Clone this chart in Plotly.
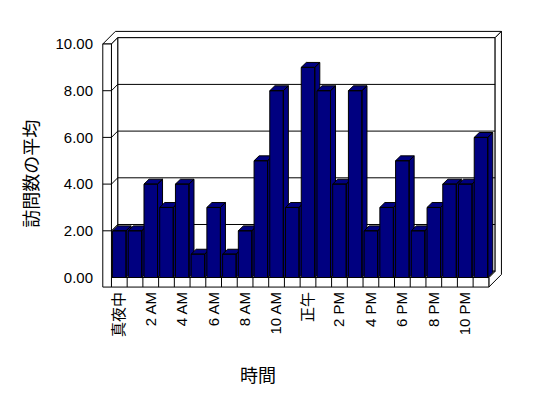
import plotly.graph_objects as go

# ---- data ----
hours = list(range(24))
visits = [2, 2, 4, 3, 4, 1, 3, 1, 2, 5, 8, 3, 9, 8, 4, 8, 2, 3, 5, 2, 3, 4, 4, 6]
tick_positions = [0, 2, 4, 6, 8, 10, 12, 14, 16, 18, 20, 22]
tick_labels = ["真夜中", "2 AM", "4 AM", "6 AM", "8 AM", "10 AM", "正午",
               "2 PM", "4 PM", "6 PM", "8 PM", "10 PM"]
y_ticks = [0, 2, 4, 6, 8, 10]
y_max = 10
x_title = "時間"
y_title = "訪問数の平均"

# ---- 3D geometry (in axis units) ----
DX, DY = 0.40, 0.27          # wall depth offset
XL, XR = -0.5, len(hours) - 0.5
XW = -1.05                    # left wall front face outer edge
FB = -0.41                    # floor bottom
HW = 0.43                     # bar half width
BX, BY = 0.32, 0.21           # bar depth offset
NAVY = "#000080"


def path(pts):
    return "M " + " L ".join(f"{x},{y}" for x, y in pts) + " Z"


def line_path(p0, p1):
    return f"M {p0[0]},{p0[1]} L {p1[0]},{p1[1]}"


shapes = []
wall = dict(type="path", xref="x", yref="y", layer="below",
            fillcolor="white", line=dict(color="black", width=1))

# top of walls
shapes.append(dict(wall, path=path([(XW, y_max), (XL, y_max), (XL + DX, y_max + DY),
                                    (XR + DX, y_max + DY), (XR + 2 * DX, y_max + 2 * DY),
                                    (XW + 2 * DX, y_max + 2 * DY)])))
# back wall inner face
shapes.append(dict(wall, path=path([(XL + DX, DY), (XR + DX, DY),
                                    (XR + DX, y_max + DY), (XL + DX, y_max + DY)])))
# left wall inner face
shapes.append(dict(wall, path=path([(XL, 0), (XL + DX, DY),
                                    (XL + DX, y_max + DY), (XL, y_max)])))
# right side of back wall + floor
shapes.append(dict(wall, path=path([(XR, FB), (XR, 0), (XR + DX, DY), (XR + DX, y_max + DY),
                                    (XR + 2 * DX, y_max + 2 * DY), (XR + 2 * DX, FB + 2 * DY)])))
# floor top face
shapes.append(dict(wall, path=path([(XL, 0), (XR, 0), (XR + DX, DY), (XL + DX, DY)])))
# floor front face
shapes.append(dict(wall, path=path([(XL, FB), (XR, FB), (XR, 0), (XL, 0)])))
# left wall front face
shapes.append(dict(wall, path=path([(XW, FB), (XL, FB), (XL, y_max), (XW, y_max)])))

grid = dict(type="path", xref="x", yref="y", layer="below",
            line=dict(color="black", width=1))
for v in y_ticks[1:-1]:
    shapes.append(dict(grid, path=line_path((XL + DX, v + DY), (XR + DX, v + DY))))
    shapes.append(dict(grid, path=line_path((XL, v), (XL + DX, v + DY))))
    shapes.append(dict(grid, path=line_path((XW, v), (XL, v))))
# category dividers on floor front
for k in range(1, len(hours)):
    shapes.append(dict(grid, path=line_path((XL + k, FB), (XL + k, 0))))

fig = go.Figure()

for h, v in zip(hours, visits):
    front = [(h - HW, 0), (h + HW, 0), (h + HW, v), (h - HW, v), (h - HW, 0)]
    top = [(h - HW, v), (h + HW, v), (h + HW + BX, v + BY), (h - HW + BX, v + BY), (h - HW, v)]
    side = [(h + HW, 0), (h + HW + BX, BY), (h + HW + BX, v + BY), (h + HW, v), (h + HW, 0)]
    xs, ys = [], []
    for poly in (side, top, front):
        xs += [p[0] for p in poly] + [None]
        ys += [p[1] for p in poly] + [None]
    fig.add_trace(go.Scatter(x=xs, y=ys, mode="lines", fill="toself",
                             fillcolor=NAVY, line=dict(color="black", width=1),
                             hoverinfo="skip", showlegend=False))

FONT = "Liberation Sans, Noto Sans CJK JP, sans-serif"

fig.update_layout(
    width=540, height=390,
    margin=dict(l=94, r=45, t=22, b=110),
    paper_bgcolor="white", plot_bgcolor="white",
    shapes=shapes,
    font=dict(family=FONT, size=15, color="black"),
    xaxis=dict(range=[-1.1, 24.4], tickmode="array", tickvals=tick_positions,
               ticktext=tick_labels, tickangle=-90, showgrid=False, zeroline=False,
               showline=False, ticks="", tickfont=dict(family=FONT, size=15, color="black")),
    yaxis=dict(range=[-0.45, 10.6], tickmode="array", tickvals=y_ticks,
               tickformat=".2f", showgrid=False, zeroline=False, showline=False,
               ticks="", ticklabelstandoff=8, tickfont=dict(family=FONT, size=15, color="black")),
    annotations=[
        dict(text=y_title, xref="paper", yref="paper", x=-0.175, y=0.442,
             textangle=-90, showarrow=False, font=dict(family=FONT, size=18),
             xanchor="center", yanchor="middle"),
        dict(text=x_title, xref="paper", yref="paper", x=0.389, y=-0.341,
             showarrow=False, font=dict(family=FONT, size=18),
             xanchor="center", yanchor="middle"),
    ],
)

fig.write_html("out.html")
